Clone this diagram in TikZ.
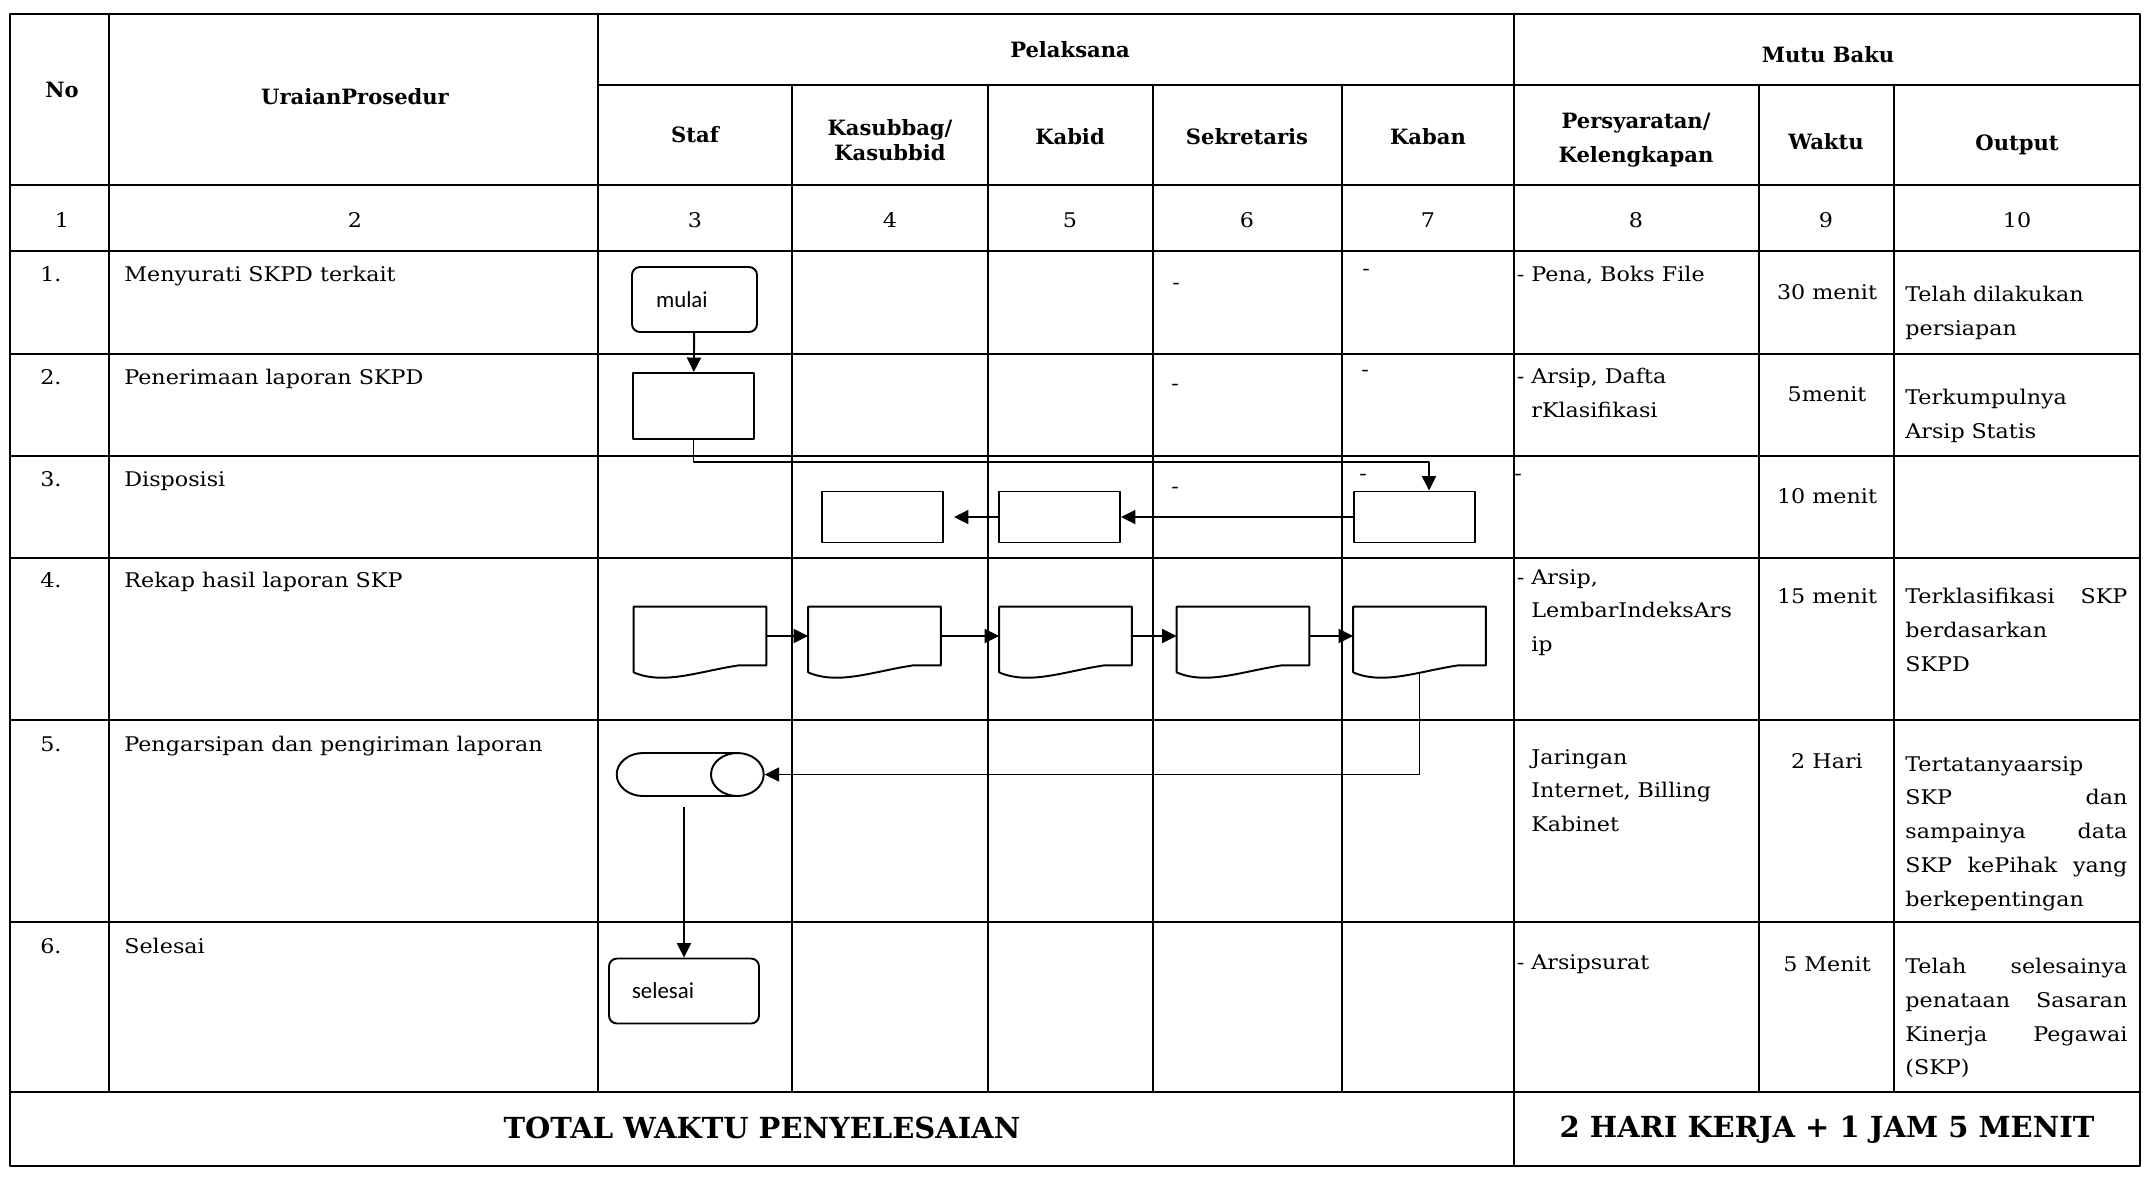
\documentclass[tikz,border=0pt]{standalone}
\usepackage{fontspec}
\setmainfont{DejaVu Serif}
\newfontfamily\isifont{DejaVu Serif}[FakeStretch=1.1]
\newfontfamily\kotakfont{Carlito}
\usetikzlibrary{arrows.meta,shapes.geometric,positioning}

\begin{document}
\begin{tikzpicture}[x=0.2mm, y=-0.2mm, >={Triangle[length=2.9mm,width=2.8mm]}, line join=round,
	garis/.style={line width=1.1pt},
	judul/.style={font=\bfseries\fontsize{12}{14}\selectfont, align=center, inner sep=0pt},
	isi/.style={font=\isifont\fontsize{11.5}{19.2}\selectfont, align=left, anchor=north west, inner sep=0pt},
	waktu/.style={font=\isifont\fontsize{11.5}{19.2}\selectfont, anchor=north, inner sep=0pt},
	total/.style={font=\bfseries\fontsize{16.5}{20}\selectfont, inner sep=0pt},
	kotak/.style={draw, line width=1.1pt, minimum width=24.2mm, minimum height=10.2mm},
	ujung/.style={draw, line width=1.1pt, rounded corners=1.6mm, minimum height=13mm, align=left, font=\kotakfont\fontsize{13}{15}\selectfont},
	dok/.style={minimum width=26.4mm, minimum height=11.6mm, inner sep=0pt},
	arsipan/.style={draw, line width=1.1pt, cylinder, aspect=4.5, minimum width=8.6mm, minimum height=29.4mm},
	panah/.style={->, line width=1.1pt}]
	\def\dokumen#1{\draw[line width=1.1pt] (#1.south east) -- (#1.north east) -- (#1.north west) -- ([yshift=-1.4mm]#1.south west) .. controls ([xshift=6mm,yshift=-4mm]#1.south west) and ([xshift=13mm,yshift=-1.2mm]#1.south west) .. ([xshift=21mm]#1.south west) -- cycle;}
	\useasboundingbox (0,0) rectangle (2145,1180);
	% garis tabel
	\draw[garis] (10,14) rectangle (2140,1166);
	\foreach \y in {185,251,354,456,558,720,922,1092} \draw[garis] (10,\y) -- (2140,\y);
	\draw[garis] (598,85) -- (2140,85);
	\foreach \x in {109,598} \draw[garis] (\x,14) -- (\x,1092);
	\foreach \x in {792,988,1153,1342,1759,1894} \draw[garis] (\x,85) -- (\x,1092);
	\draw[garis] (1514,14) -- (1514,1166);
	% kepala tabel
	\node[judul] (no) at (62,90) {No};
	\node[judul] (uraian) at (355,97) {UraianProsedur};
	\node[judul] (pelaksana) at (1070,50) {Pelaksana};
	\node[judul] (mutu) at (1828,55) {Mutu Baku};
	\node[judul] (staf) at (695,135) {Staf};
	\node[judul, font=\bfseries\fontsize{12}{14}\selectfont] (kasubbag) at (890,140) {Kasubbag/\\Kasubbid};
	\node[judul] (kabid) at (1070,137) {Kabid};
	\node[judul] (sekretaris) at (1247,137) {Sekretaris};
	\node[judul] (kaban) at (1428,137) {Kaban};
	\node[judul, font=\bfseries\fontsize{12}{19}\selectfont] (syarat) at (1636,140) {Persyaratan/\\Kelengkapan};
	\node[judul] (waktu) at (1826,142) {Waktu};
	\node[judul] (output) at (2017,145) {Output};
	\foreach \x/\n in {62/1,355/2,695/3,890/4,1070/5,1247/6,1428/7,1636/8,1826/9,2017/10}
		\node[waktu, anchor=center] (kol\n) at (\x,220) {\n};
	% uraian prosedur
	\foreach \n/\y/\teks in {1/266/Menyurati SKPD terkait, 2/369/Penerimaan laporan SKPD, 3/471/Disposisi, 4/572/Rekap hasil laporan SKP, 5/736/Pengarsipan dan pengiriman laporan, 6/938/Selesai} {
		\node[isi] (no\n) at (40,\y) {\n.};
		\node[isi] (uraian\n) at (124,\y) {\teks};
	}
	\foreach \x/\y [count=\i] in {1176/286,1366/272,1175/387,1365/373,1175/490,1363/477}
		\node[isi, anchor=center] (strip\i) at (\x,\y) {-};
	% mutu baku
	\node[isi] (syarat1) at (1531,266) {\llap{- }Pena, Boks File};
	\node[isi] (syarat2) at (1531,368) {\llap{- }Arsip, Dafta\\rKlasifikasi};
	\node[isi, anchor=center] (syarat3) at (1518,477) {-};
	\node[isi] (syarat4) at (1531,569) {\llap{- }Arsip,\\LembarIndeksArs\\ip};
	\node[isi] (syarat5) at (1531,749) {Jaringan\\Internet, Billing\\Kabinet};
	\node[isi] (syarat6) at (1531,954) {\llap{- }Arsipsurat};
	\foreach \n/\y/\teks in {1/284/30 menit, 2/386/5menit, 3/488/10 menit, 4/588/15 menit, 5/753/2 Hari, 6/956/5 Menit}
		\node[waktu] (waktu\n) at (1827,\y) {\teks};
	\node[isi, text width=44.4mm] (hasil1) at (1905,286) {Telah dilakukan\\persiapan};
	\node[isi, text width=44.4mm] (hasil2) at (1905,389) {Terkumpulnya\\Arsip Statis};
	\node[isi, text width=44.4mm] (hasil4) at (1905,588) {Terklasifikasi\hfill SKP\\berdasarkan\\SKPD};
	\node[isi, text width=44.4mm] (hasil5) at (1905,756) {Tertatanyaarsip\\SKP\hfill dan\\sampainya\hfill data\\SKP\hfill kePihak\hfill yang\\berkepentingan};
	\node[isi, text width=44.4mm] (hasil6) at (1905,958) {Telah\hfill selesainya\\penataan\hfill Sasaran\\Kinerja\hfill Pegawai\\(SKP)};
	\node[total] (totalwaktu) at (762,1128) {TOTAL WAKTU PENYELESAIAN};
	\node[total] (totalhari) at (1827,1130) {2 HARI KERJA + 1 JAM 5 MENIT};
	% bagan alir
	\node[ujung, minimum width=25mm, text width=15.4mm, inner xsep=4.8mm] (mulai) at (694.5,299.5) {mulai};
	\node[kotak, minimum height=13.2mm] (terima) at (693.5,406) {};
	\node[kotak] (kasubbag3) at (882.5,517) {};
	\node[kotak] (kabid3) at (1059.5,517) {};
	\node[kotak] (kaban3) at (1414.5,517) {};
	\foreach \n/\x in {1/700,2/874.5,3/1065.5,4/1243,5/1419.5} {
		\node[dok] (dok\n) at (\x,636) {};
		\dokumen{dok\n}
	}
	\node[arsipan] (arsip) at (667.5,774.5) {};
	\node[ujung, minimum width=30mm, text width=20.8mm, inner xsep=4.6mm] (selesai) at (684,991) {selesai};
	\coordinate (belok) at (1429,462);
	\draw[panah] (mulai) -- (terima);
	\draw[panah] (terima.south) |- (belok) -- (belok |- kaban3.north);
	\draw[panah] (kaban3) -- (kabid3);
	\draw[panah, shorten >=2mm] (kabid3) -- (kasubbag3);
	\foreach \a/\b in {1/2,2/3,3/4,4/5} \draw[panah] (dok\a) -- (dok\b);
	\draw[panah] ([yshift=-1.5mm]dok5.south) |- (arsip.east);
	\draw[panah] ([yshift=-2mm]arsip.south -| selesai.north) -- (selesai.north);
\end{tikzpicture}
\end{document}
